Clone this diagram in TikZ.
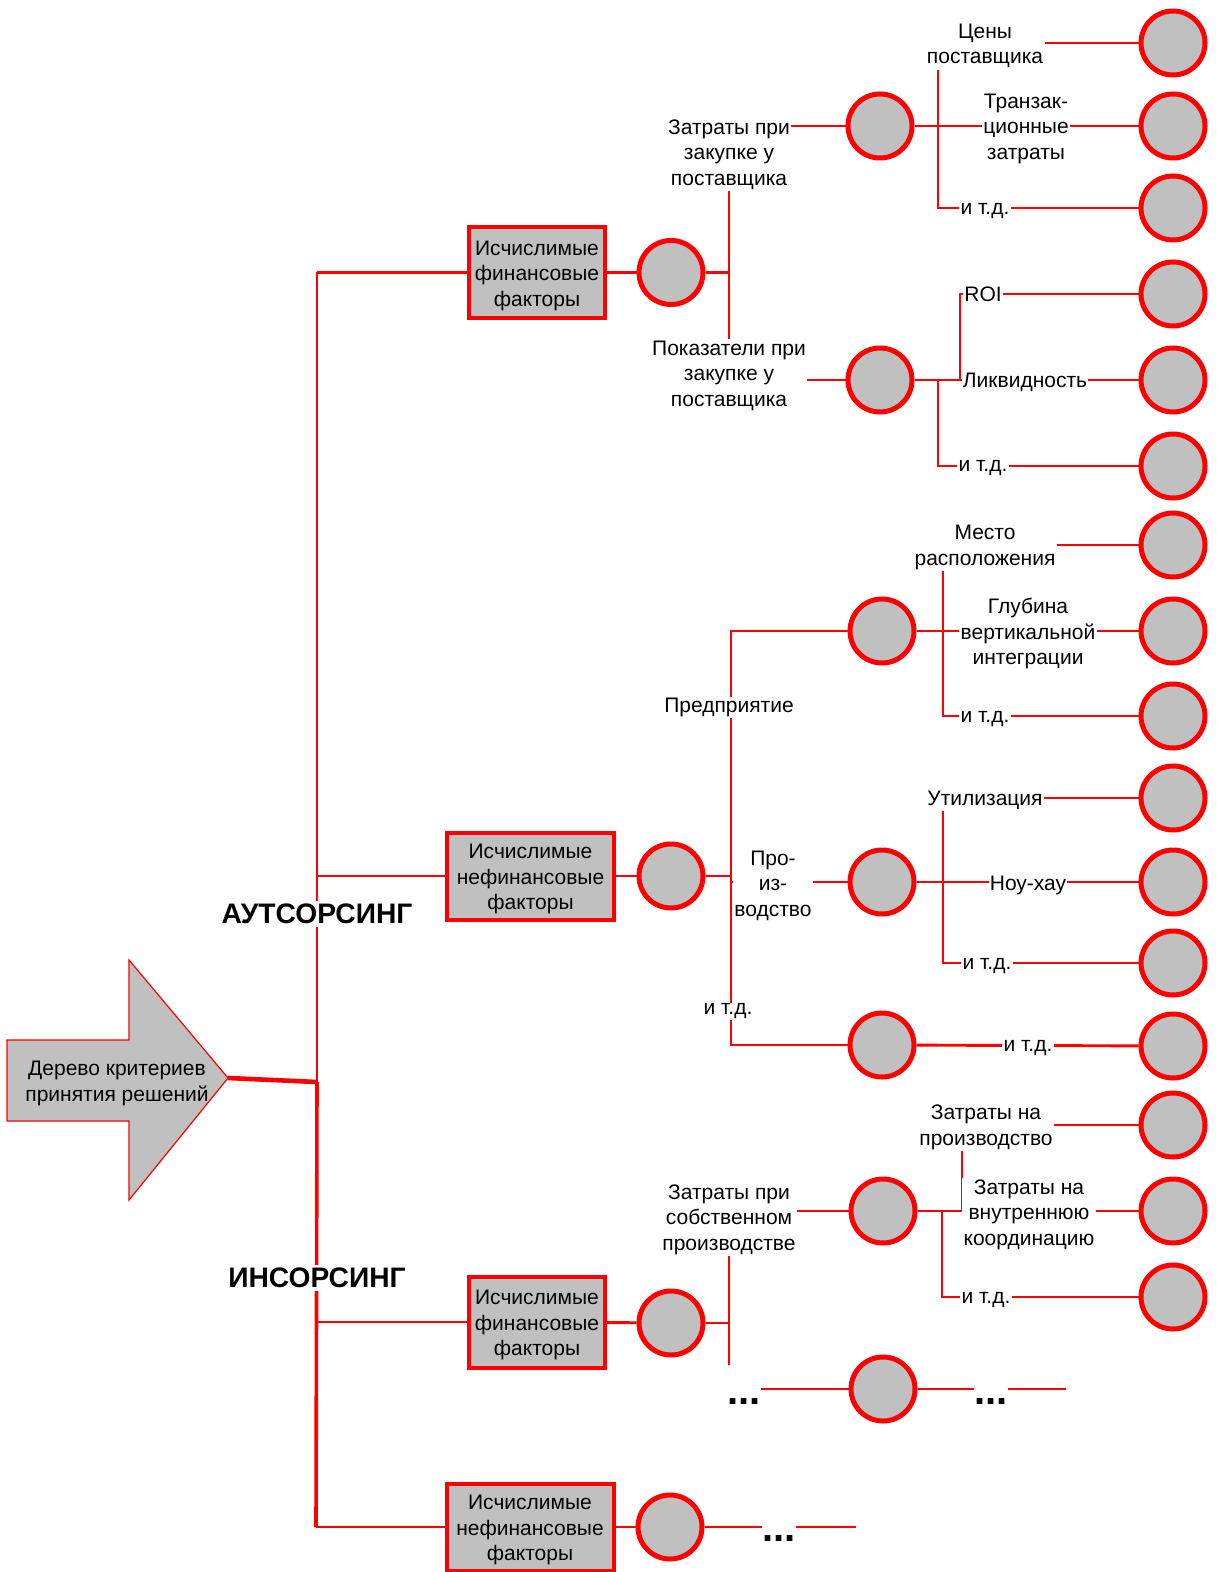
\documentclass[tikz,border=0pt]{standalone}
\usepackage{fontspec}
\setmainfont{Liberation Sans}
\usetikzlibrary{backgrounds}
\definecolor{rd}{HTML}{FF0000}
\definecolor{gr}{HTML}{C0C0C0}
\newcommand\ftxt{\fontsize{10.5}{12.75}\selectfont}
\newcommand\fbig{\fontsize{14.1}{16}\selectfont\bfseries}
\newcommand\fdots{\fontsize{20}{22}\selectfont\bfseries}
\begin{document}
\begin{tikzpicture}[x=0.5pt,y=-0.5pt,
  lnk/.style={draw=rd, line width=1.45pt},
  fbox/.style={draw=rd, line width=2pt, fill=gr, inner sep=0pt},
  finbox/.style={fbox, minimum width=68pt, minimum height=45.5pt},
  nfinbox/.style={fbox, minimum width=83.5pt, minimum height=43.5pt},
  btxt/.style={inner sep=0pt, align=center, font=\ftxt, yshift=-1.6pt},
  circ/.style={circle, draw=rd, fill=gr, line width=2.5pt, minimum size=32pt, inner sep=0pt},
  lbl/.style={fill=white, inner sep=0.6pt, align=center, font=\ftxt, yshift=-1.75pt},
  big/.style={fill=white, inner sep=1.5pt, font=\fbig, yshift=-1.6pt},
  dts/.style={inner sep=0pt, font=\fdots, anchor=base}]
\useasboundingbox (0,0) rectangle (1221,1572);

% arrow
\draw[draw=rd, line width=0.6pt, fill=gr, line join=miter]
  (7,1040) -- (129,1040) -- (129,960) -- (228,1078) -- (129,1200) -- (129,1121) -- (7,1121) -- cycle;
\coordinate (tip) at (228,1078);
\node[btxt, yshift=-0.2pt] (tree) at (117,1080) {Дерево критериев\\принятия решений};

% trunk coordinates
\coordinate (tTop) at (317,272.5);
\coordinate (tMid) at (317,1082);
\coordinate (tBot) at (316,1527);

% boxes
\node[finbox]  (box1) at (537,272.5) {};
\node[nfinbox] (box2) at (530.5,876) {};
\node[finbox]  (box3) at (537,1322) {};
\node[nfinbox] (box4) at (530,1527) {};
\node[btxt] (box1t) at (box1) {Исчислимые\\финансовые\\факторы};
\node[btxt] (box2t) at (box2) {Исчислимые\\нефинансовые\\факторы};
\node[btxt] (box3t) at (box3) {Исчислимые\\финансовые\\факторы};
\node[btxt] (box4t) at (box4) {Исчислимые\\нефинансовые\\факторы};

% left circles
\node[circ] (L1) at (671,272.5) {};
\node[circ] (L2) at (671,876) {};
\node[circ] (L3) at (671,1323) {};
\node[circ] (L4) at (670,1527) {};

% middle circles
\node[circ] (A1) at (880,126) {};
\node[circ] (A2) at (880,380) {};
\node[circ] (B1) at (882,631) {};
\node[circ] (B2) at (882,882) {};
\node[circ] (B3) at (882,1045) {};
\node[circ] (D1) at (883,1211) {};
\node[circ] (D2) at (883,1389) {};

% right circles
\foreach \i/\y in {1/43,2/126,3/208,4/294,5/380,6/466,7/545,8/631,9/716,10/798,11/882,12/963,13/1046,14/1125,15/1211,16/1297}
  \node[circ] (R\i) at (1173,\y) {};

% labels
\node[lbl] (zz) at (729,151) {Затраты при\\закупке у\\поставщика};
\node[lbl] (pp) at (729,372) {Показатели при\\закупке у\\поставщика};
\node[lbl] (ceny) at (985,42.5) {Цены\\поставщика};
\node[lbl] (tr) at (1026,125) {Транзак-\\ционные\\затраты};
\node[lbl] (e1) at (985,208) {и т.д.};
\node[lbl] (roi) at (983,291) {ROI};
\node[lbl] (lk) at (1025,379) {Ликвидность};
\node[lbl] (e2) at (983,465) {и т.д.};
\node[lbl] (ms) at (985,544) {Место\\расположения};
\node[lbl] (gl) at (1028,630) {Глубина\\вертикальной\\интеграции};
\node[lbl] (e3) at (985,716) {и т.д.};
\node[lbl] (pr) at (729,704) {Предприятие};
\node[lbl] (pz) at (773,882) {Про-\\из-\\водство};
\node[lbl] (e4) at (728,1008) {и т.д.};
\node[lbl] (ut) at (985,797) {Утилизация};
\node[lbl] (nh) at (1028,882) {Ноу-хау};
\node[lbl] (e5) at (987,963) {и т.д.};
\node[lbl] (e6) at (1028,1045) {и т.д.};
\node[lbl] (zn) at (986,1124) {Затраты на\\производство};
\node[lbl] (zv) at (1029,1211) {Затраты на\\внутреннюю\\координацию};
\node[lbl] (e7) at (986,1297) {и т.д.};
\node[lbl] (zs) at (729,1216) {Затраты при\\собственном\\производстве};
\node[big] (out) at (317,911) {АУТСОРСИНГ};
\node[big] (ins) at (317,1275) {ИНСОРСИНГ};
\node[dts] (d1) at (744,1404) {...};
\node[dts] (d2) at (991,1404) {...};
\node[dts] (d3) at (779,1541) {...};

% junctions
\coordinate (jA1) at (938,126);
\coordinate (jA2u) at (960,380);
\coordinate (jA2d) at (938,380);
\coordinate (jB) at (731,876);
\coordinate (jB1) at (943,631);
\coordinate (jB2) at (943,882);
\coordinate (jD1u) at (962,1211);
\coordinate (jD1d) at (942,1211);
\coordinate (barEnd) at (729,1365);
\coordinate (endD2) at (1066,1389);
\coordinate (end4) at (856,1527);

\begin{scope}[on background layer]
  % trunk
  \draw[draw=rd, line width=2.3pt] (tip) -- (tMid);
  \draw[lnk] (tTop) -- (tMid);
  \draw[draw=rd, line width=1.8pt] (tMid) -- (tBot);
  \draw[lnk] (tTop) -- (box1.west);
  \draw[lnk] (box2.west -| tTop) -- (box2.west);
  \draw[lnk] (box3.west -| tBot) -- (box3.west);
  \draw[lnk] (tBot) -- (box4.west);
  % boxes to circles
  \draw[lnk] (box1) -- (L1);
  \draw[lnk] (box2) -- (L2);
  \draw[lnk] (box3) -- (L3);
  \draw[lnk] (box4) -- (L4);
  % outsourcing financial
  \draw[lnk] (zz.south) -- (pp.north);
  \draw[lnk] (L1) -- (L1 -| zz.south);
  \draw[lnk] (A1 -| zz.east) -- (A1);
  \draw[lnk] (A2 -| pp.east) -- (A2);
  \draw[lnk] (A1) -- (R2);
  \draw[lnk] (jA1 |- ceny.south) -- (jA1 |- R3) -- (e1.west |- R3);
  \draw[lnk] (ceny.east |- R1) -- (R1);
  \draw[lnk] (e1.east |- R3) -- (R3);
  \draw[lnk] (A2) -- (R5);
  \draw[lnk] (jA2u) -- (jA2u |- R4) -- (roi.west |- R4);
  \draw[lnk] (roi.east |- R4) -- (R4);
  \draw[lnk] (jA2d) -- (jA2d |- R6) -- (e2.west |- R6);
  \draw[lnk] (e2.east |- R6) -- (R6);
  % outsourcing non-financial
  \draw[lnk] (L2) -- (jB);
  \draw[lnk] (B1) -- (jB |- B1) -- (jB |- B3) -- (B3);
  \draw[lnk] (jB |- B2) -- (B2);
  \draw[lnk] (B1) -- (R8);
  \draw[lnk] (jB1 |- ms.south) -- (jB1 |- R9) -- (e3.west |- R9);
  \draw[lnk] (ms.east |- R7) -- (R7);
  \draw[lnk] (e3.east |- R9) -- (R9);
  \draw[lnk] (B2) -- (R11);
  \draw[lnk] (jB2 |- ut.south) -- (jB2 |- R12) -- (e5.west |- R12);
  \draw[lnk] (ut.east |- R10) -- (R10);
  \draw[lnk] (e5.east |- R12) -- (R12);
  \draw[lnk] (B3) -- (R13);
  % insourcing financial
  \draw[lnk] (L3) -- (L3 -| barEnd);
  \draw[lnk] (zs.south) -- (barEnd);
  \draw[lnk] (D1 -| zs.east) -- (D1);
  \draw[lnk] (D1) -- (jD1u) -- (jD1u |- zn.south);
  \draw[lnk] (zn.east |- R14) -- (R14);
  \draw[lnk] (zv.east |- R15) -- (R15);
  \draw[lnk] (jD1d) -- (jD1d |- R16) -- (e7.west |- R16);
  \draw[lnk] (e7.east |- R16) -- (R16);
  \draw[lnk] (d1.east |- D2) -- (D2) -- (d2.west |- D2);
  \draw[lnk] (d2.east |- D2) -- (endD2);
  % insourcing non-financial
  \draw[lnk] (L4) -- (d3.west |- L4);
  \draw[lnk] (d3.east |- L4) -- (end4);
\end{scope}
\end{tikzpicture}
\end{document}
